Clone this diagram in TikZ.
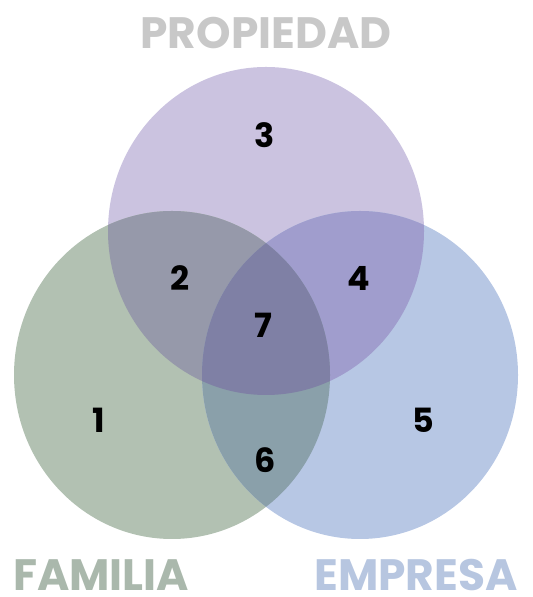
\documentclass[tikz,border=0pt]{standalone}
\usepackage{fontspec}
\setmainfont{Poppins}
\definecolor{colP}{RGB}{203,195,224}
\definecolor{colF}{RGB}{178,193,178}
\definecolor{colE}{RGB}{183,199,228}
\definecolor{colPF}{RGB}{150,153,170}
\definecolor{colPE}{RGB}{160,157,205}
\definecolor{colFE}{RGB}{138,160,170}
\definecolor{colPFE}{RGB}{127,128,165}
\definecolor{txtP}{RGB}{200,200,200}
\definecolor{txtF}{RGB}{170,184,172}
\definecolor{txtE}{RGB}{183,198,224}
\tikzset{
  num/.style={font=\fontsize{19}{19}\selectfont\bfseries, text=black, inner sep=0pt},
  title/.style={font=\fontsize{25}{25}\selectfont\bfseries, inner sep=0pt}
}
\begin{document}
\begin{tikzpicture}[x=0.02cm, y=0.02cm, line join=round]
		\def\rx{158} \def\ry{164} % Bán kính
		\def\circP{(266,366) ellipse [x radius=\rx, y radius=\ry]}
		\def\circF{(172,222) ellipse [x radius=\rx, y radius=\ry]}
		\def\circE{(360,222) ellipse [x radius=\rx, y radius=\ry]}
		\useasboundingbox (0,0) rectangle (532,597);
		\fill[colP] \circP;
		\fill[colF] \circF;
		\fill[colE] \circE;
		\begin{scope} \clip \circP; \fill[colPF] \circF; \end{scope}
		\begin{scope} \clip \circP; \fill[colPE] \circE; \end{scope}
		\begin{scope} \clip \circF; \fill[colFE] \circE; \end{scope}
		\begin{scope} \clip \circP; \clip \circF; \fill[colPFE] \circE; \end{scope}
		\foreach \n/\x/\y in {1/99/177, 2/180/319, 3/265/462, 4/359/319, 5/423/177, 6/265/137, 7/263/272}
		\node[num] (n\n) at (\x,\y) {\n};
		\node[title, text=txtP] (propiedad) at (266,564) {PROPIEDAD};
		\node[title, text=txtF] (familia) at (101,22) {FAMILIA};
		\node[title, text=txtE] (empresa) at (416,22) {EMPRESA};
		\end{tikzpicture}
\end{document}
